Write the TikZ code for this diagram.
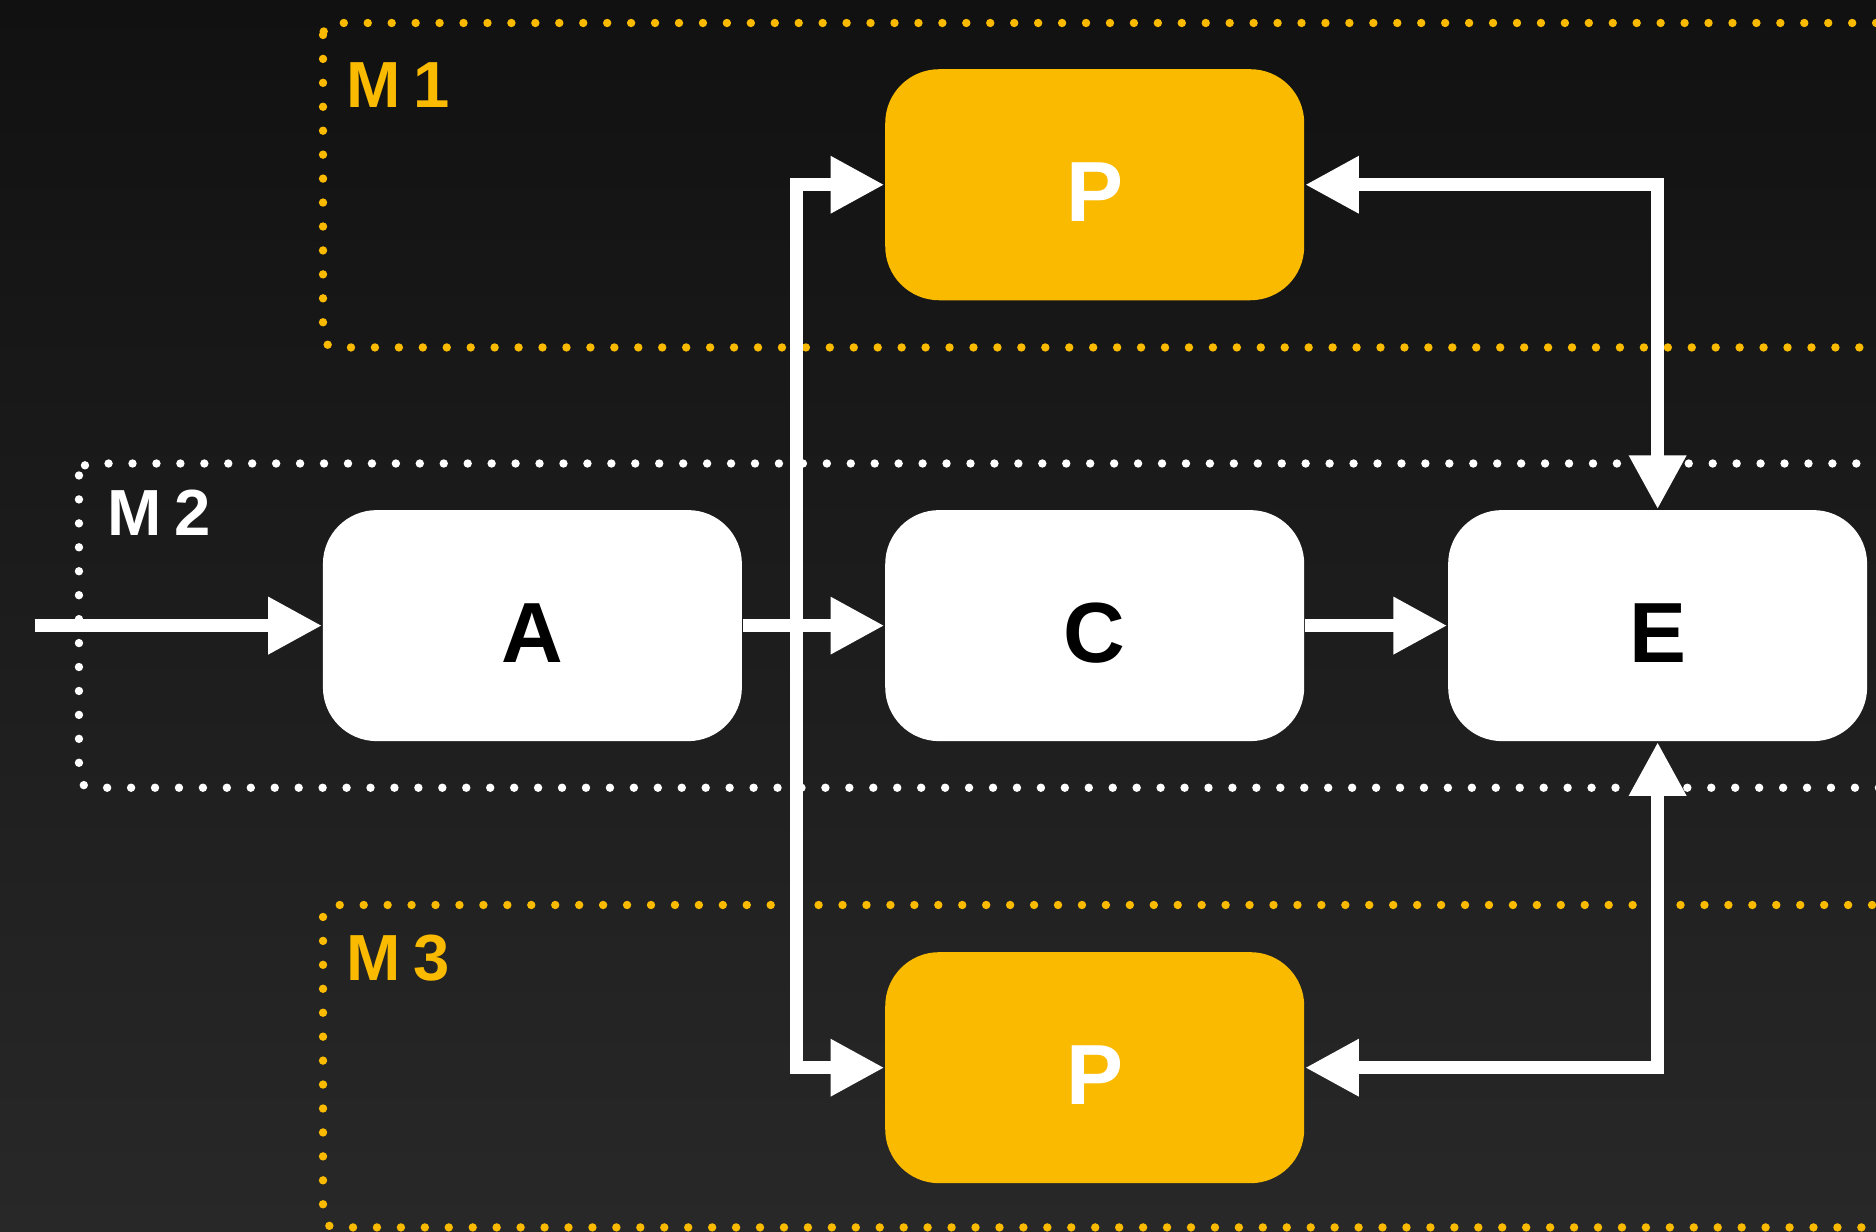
\documentclass[tikz,border=0pt]{standalone}
\usepackage{fontspec}
\setmainfont{Liberation Sans}
\usetikzlibrary{arrows.meta}
\definecolor{ylw}{HTML}{F9BA00}
\definecolor{bgtop}{HTML}{111111}
\definecolor{bgbot}{HTML}{282828}
\begin{document}
\begin{tikzpicture}[x=0.01cm,y=0.01cm,
  box/.style={draw=none, rounded corners=4.5mm, minimum width=3.5cm, minimum height=1.93cm, inner sep=0pt,
    font=\fontsize{20.3}{24}\selectfont\bfseries, text height=6.1mm, text depth=0pt},
  pbox/.style={box, fill=ylw, text=white},
  wbox/.style={box, fill=white, text=black},
  zone/.style={line width=0.7mm, line cap=round, dash pattern=on 0pt off 2mm, rounded corners=1mm},
  zlabel/.style={anchor=base west, inner sep=0pt, font=\fontsize{15.5}{18}\selectfont\bfseries},
  tip/.tip={Triangle[length=4.5mm,width=4.5mm]},
  conn/.style={draw=white, line width=1.1mm, line join=miter, -tip},
  biconn/.style={conn, tip-tip}
]
\clip (0,0) rectangle (1568,1029);
\shade[top color=bgtop, bottom color=bgbot] (0,0) rectangle (1568,1029);
\begin{scope}[yshift=10.29cm, y=-0.01cm]
  % zones
  \draw[zone, ylw] (270,19.8) rectangle (1620,291);
  \draw[zone, white] (66,388) rectangle (1620,659);
  \draw[zone, ylw] (270,757) rectangle (1620,1026.5);
  \node[zlabel, text=ylw] (m1) at (289,90.5) {M\hspace{0.2em}1};
  \node[zlabel, text=white] (m2) at (89,448) {M\hspace{0.2em}2};
  \node[zlabel, text=ylw] (m3) at (289,820) {M\hspace{0.2em}3};
  % nodes
  \node[pbox] (P1) at (915,155) {P};
  \node[wbox] (A) at (445,523.5) {A};
  \node[wbox] (C) at (915,523.5) {C};
  \node[wbox] (E) at (1385.5,523.5) {E};
  \node[pbox] (P3) at (915,893) {P};
  % connectors
  \coordinate (in) at (29,523.5);
  \coordinate (j) at (665.5,523.5);
  \draw[conn] (in) -- (A.west);
  \draw[conn] (A) -- (C);
  \draw[conn] (C) -- (E);
  \draw[conn] (j) |- (P1.west);
  \draw[conn] (j) |- (P3.west);
  \draw[biconn] (P1.east) -| (E.north);
  \draw[biconn] (P3.east) -| (E.south);
\end{scope}
\end{tikzpicture}
\end{document}
